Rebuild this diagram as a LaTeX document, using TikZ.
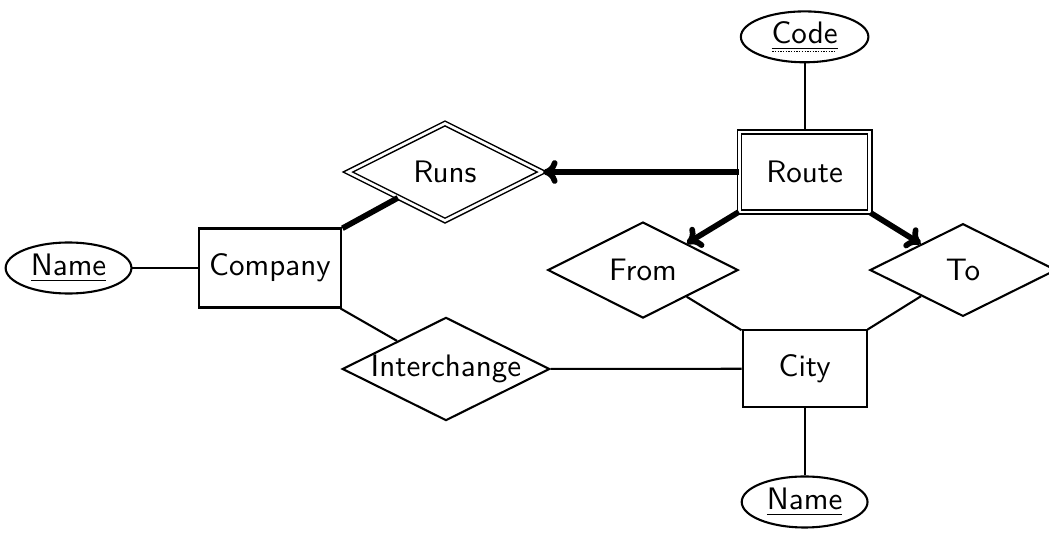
\documentclass[tikz,border=0pt]{standalone}
\usepackage{tikz}
\usetikzlibrary{shapes.geometric, arrows.meta, positioning}

\newsavebox{\keybox}
\newcommand{\partialkey}[1]{\sbox{\keybox}{#1}\underline{#1}\llap{\raisebox{-2.7pt}{\hbox to \wd\keybox{\leaders\hbox to 0.9pt{\hss\rule{0.45pt}{0.4pt}\hss}\hfill}}}}
\newcommand{\erfont}{\fontsize{10.4pt}{12pt}\selectfont\sffamily}

\begin{document}
\begin{tikzpicture}[
                entity/.style={rectangle, draw, line width=0.7pt, inner sep=2pt,
                               minimum width=1.68cm, minimum height=0.93cm, font=\erfont},
                weakentity/.style={entity, double, double distance=0.9pt, line width=0.5pt},
                attr/.style={ellipse, draw, line width=0.7pt, inner sep=1pt,
                             minimum width=1.48cm, minimum height=0.6cm, font=\erfont},
                rel/.style={diamond, draw, aspect=2, line width=0.7pt, inner sep=0pt,
                            minimum width=2.24cm, minimum height=1.13cm, font=\erfont},
                weakrel/.style={rel, double, double distance=0.9pt, line width=0.5pt},
                link/.style={line width=0.7pt},
                total/.style={line width=1.9pt},
                arr/.style={total, -{Computer Modern Rightarrow[length=1.7mm, width=2.8mm]}}
            ]
                \path[use as bounding box, clip] (-3.176,-3.153) rectangle (9.165,3.153);

                % entities
                \node[entity] (company) at (0,0) {Company};
                \node[weakentity, minimum width=1.53cm, minimum height=0.94cm] (route) at (6.29,1.129) {Route};
                \node[entity, minimum width=1.46cm, minimum height=0.906cm, below=1.37cm of route] (city) {City};

                % attributes
                \node[attr, left=0.765cm of company] (compname) {\underline{Name}};
                \node[attr, minimum width=1.5cm, minimum height=0.59cm, above=0.8cm of route] (code) {\partialkey{Code}};
                \node[attr, below=0.79cm of city] (cityname) {\underline{Name}};

                % relationships
                \node[weakrel, minimum width=2.29cm, minimum height=1.15cm] (runs) at (2.059,1.129) {Runs};
                \node[rel] (from) at (4.388,-0.024) {From};
                \node[rel, minimum width=2.19cm, minimum height=1.09cm] (to) at (8.153,-0.024) {To};
                \node[rel, minimum width=2.44cm, minimum height=1.2cm] (interchange) at (2.071,-1.188) {Interchange};

                \draw[link] (compname) -- (company);
                \draw[link] (code) -- (route);
                \draw[link] (city) -- (cityname);
                \draw[link] (company) -- (interchange);
                \draw[link] (interchange) -- (city);
                \draw[link] (from) -- (city);
                \draw[link] (to) -- (city);

                \draw[total] (company) -- (runs);
                \draw[arr] (route) -- (runs);
                \draw[arr] (route) -- (from);
                \draw[arr] (route) -- (to);
            \end{tikzpicture}
\end{document}
